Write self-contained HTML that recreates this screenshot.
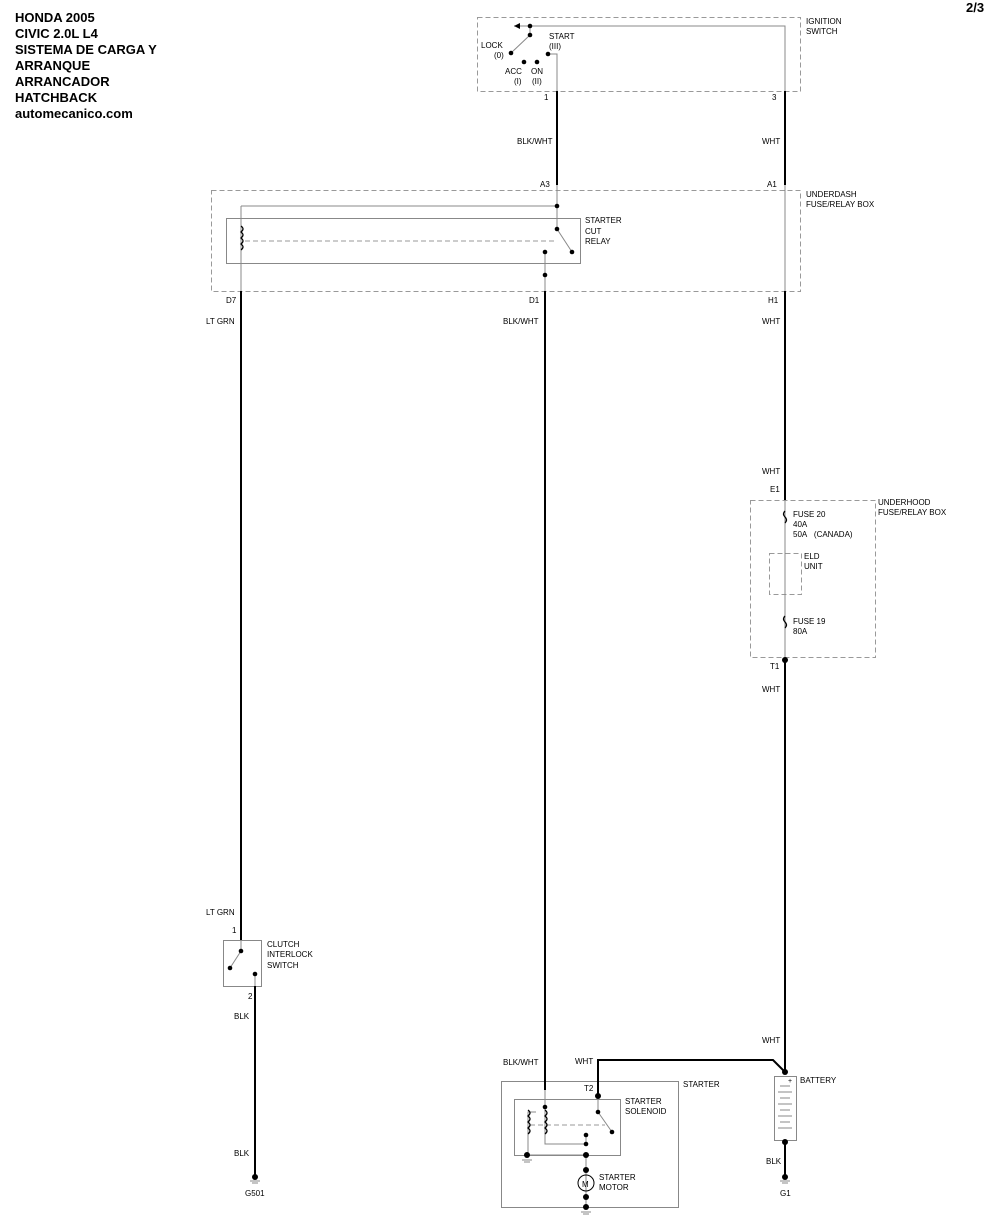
<!DOCTYPE html>
<html><head><meta charset="utf-8"><style>
html,body{margin:0;padding:0;background:#fff;}
svg{display:block;}
text{font-family:"Liberation Sans",Arial,sans-serif;font-size:8px;fill:#000;}
.t{font-size:13px;font-weight:bold;}
</style></head><body>
<svg width="990" height="1218" viewBox="0 0 990 1218" xmlns="http://www.w3.org/2000/svg">
<g>
<text class="t" x="15" y="22">HONDA 2005</text>
<text class="t" x="15" y="38">CIVIC 2.0L L4</text>
<text class="t" x="15" y="54">SISTEMA DE CARGA Y</text>
<text class="t" x="15" y="70">ARRANQUE</text>
<text class="t" x="15" y="86">ARRANCADOR</text>
<text class="t" x="15" y="102">HATCHBACK</text>
<text class="t" x="15" y="118">automecanico.com</text>
<text class="t" x="966" y="12">2/3</text>
</g>
<g fill="none" stroke="#999" stroke-width="1" stroke-dasharray="5,3">
<rect x="477.5" y="17.5" width="323" height="74"/>
<rect x="211.5" y="190.5" width="589" height="101"/>
<rect x="750.5" y="500.5" width="125" height="157"/>
<rect x="769.5" y="553.5" width="32" height="41"/>
<line x1="245" y1="241" x2="555" y2="241"/>
<line x1="530" y1="1125" x2="605" y2="1125"/>
</g>
<g fill="none" stroke="#888" stroke-width="1">
<rect x="226.5" y="218.5" width="354" height="45"/>
<rect x="501.5" y="1081.5" width="177" height="126"/>
<rect x="514.5" y="1099.5" width="106" height="56"/>
<rect x="223.5" y="940.5" width="38" height="46"/>
<rect x="774.5" y="1076.5" width="22" height="64"/>
<polyline points="514,26 785,26 785,291"/>
<polyline points="548,54 557,54 557,91"/>
<line x1="530" y1="26" x2="530" y2="35"/>
<line x1="530" y1="35" x2="511" y2="53"/>
<line x1="241" y1="206" x2="557" y2="206"/>
<line x1="241" y1="206" x2="241" y2="291"/>
<line x1="557" y1="185" x2="557" y2="229"/>
<line x1="557" y1="229" x2="572" y2="252"/>
<line x1="545" y1="252" x2="545" y2="291"/>
<line x1="785" y1="500" x2="785" y2="660"/>
<line x1="241" y1="940" x2="241" y2="951"/>
<line x1="241" y1="951" x2="230" y2="968"/>
<line x1="255" y1="974" x2="255" y2="986"/>
<line x1="545" y1="1090" x2="545" y2="1107"/>
<line x1="598" y1="1096" x2="598" y2="1112"/>
<line x1="598" y1="1112" x2="612" y2="1132"/>
<polyline points="536,1112 528,1112 528,1155 586,1155"/>
<polyline points="545,1107 545,1144 586,1144 586,1135"/>
<line x1="586" y1="1155" x2="586" y2="1207"/>
</g>
<g fill="none" stroke="#000" stroke-width="2">
<line x1="557" y1="91" x2="557" y2="185"/>
<line x1="785" y1="91" x2="785" y2="185"/>
<line x1="241" y1="291" x2="241" y2="940"/>
<line x1="545" y1="291" x2="545" y2="1090"/>
<line x1="785" y1="291" x2="785" y2="500"/>
<line x1="785" y1="660" x2="785" y2="1072"/>
<line x1="255" y1="986" x2="255" y2="1175"/>
<polyline points="598,1096 598,1060 773,1060 785,1072"/>
<line x1="785" y1="1142" x2="785" y2="1175"/>
</g>
<g fill="none" stroke="#000" stroke-width="1.3">
<path d="M241,226 q4,3 0,6 q4,3 0,6 q4,3 0,6 q4,3 0,6"/>
<path d="M528,1110 q4,3 0,6 q4,3 0,6 q4,3 0,6 q4,3 0,6"/>
<path d="M545,1110 q4,3 0,6 q4,3 0,6 q4,3 0,6 q4,3 0,6"/>
<path d="M785,511 q-3,3 0,6 q3,3 0,6"/>
<path d="M785,616 q-3,3 0,6 q3,3 0,6"/>
<circle cx="586" cy="1183" r="8" stroke-width="1"/>
</g>
<g stroke="#888" stroke-width="1">
<line x1="780" y1="1086" x2="790" y2="1086"/><line x1="778" y1="1092" x2="792" y2="1092"/>
<line x1="780" y1="1098" x2="790" y2="1098"/><line x1="778" y1="1104" x2="792" y2="1104"/>
<line x1="780" y1="1110" x2="790" y2="1110"/><line x1="778" y1="1116" x2="792" y2="1116"/>
<line x1="780" y1="1122" x2="790" y2="1122"/><line x1="778" y1="1128" x2="792" y2="1128"/>
<line x1="250" y1="1181" x2="260" y2="1181"/><line x1="252" y1="1183" x2="258" y2="1183"/>
<line x1="780" y1="1181" x2="790" y2="1181"/><line x1="782" y1="1183" x2="788" y2="1183"/>
<line x1="522" y1="1160" x2="532" y2="1160"/><line x1="524" y1="1162" x2="530" y2="1162"/>
<line x1="581" y1="1212" x2="591" y2="1212"/><line x1="583" y1="1214" x2="589" y2="1214"/>
</g>
<g fill="#000">
<path d="M514,26 l6,-3 v6z"/>
<circle cx="530" cy="26" r="2.3"/><circle cx="530" cy="35" r="2.3"/><circle cx="511" cy="53" r="2.3"/>
<circle cx="524" cy="62" r="2.3"/><circle cx="537" cy="62" r="2.3"/><circle cx="548" cy="54" r="2.3"/>
<circle cx="557" cy="206" r="2.3"/><circle cx="557" cy="229" r="2.3"/><circle cx="572" cy="252" r="2.3"/>
<circle cx="545" cy="252" r="2.3"/><circle cx="545" cy="275" r="2.3"/>
<circle cx="785" cy="660" r="3"/>
<circle cx="241" cy="951" r="2.3"/><circle cx="230" cy="968" r="2.3"/><circle cx="255" cy="974" r="2.3"/>
<circle cx="598" cy="1096" r="3"/><circle cx="598" cy="1112" r="2.3"/><circle cx="612" cy="1132" r="2.3"/>
<circle cx="545" cy="1107" r="2.3"/><circle cx="527" cy="1155" r="3"/>
<circle cx="586" cy="1135" r="2.3"/><circle cx="586" cy="1144" r="2.3"/><circle cx="586" cy="1155" r="3"/>
<circle cx="586" cy="1170" r="3"/><circle cx="586" cy="1197" r="3"/><circle cx="586" cy="1207" r="3"/>
<circle cx="785" cy="1072" r="3"/><circle cx="785" cy="1142" r="3"/>
<circle cx="255" cy="1177" r="3"/><circle cx="785" cy="1177" r="3"/>
</g>
<g>
<text x="806" y="24">IGNITION</text><text x="806" y="34">SWITCH</text>
<text x="481" y="48">LOCK</text><text x="494" y="58">(0)</text>
<text x="549" y="39">START</text><text x="549" y="49">(III)</text>
<text x="505" y="74">ACC</text><text x="514" y="84">(I)</text>
<text x="531" y="74">ON</text><text x="532" y="84">(II)</text>
<text x="544" y="100">1</text><text x="772" y="100">3</text>
<text x="517" y="144">BLK/WHT</text><text x="762" y="144">WHT</text>
<text x="540" y="187">A3</text><text x="767" y="187">A1</text>
<text x="806" y="197">UNDERDASH</text><text x="806" y="207">FUSE/RELAY BOX</text>
<text x="585" y="223">STARTER</text><text x="585" y="234">CUT</text><text x="585" y="244">RELAY</text>
<text x="226" y="303">D7</text><text x="529" y="303">D1</text><text x="768" y="303">H1</text>
<text x="206" y="324">LT GRN</text><text x="503" y="324">BLK/WHT</text><text x="762" y="324">WHT</text>
<text x="762" y="474">WHT</text><text x="770" y="492">E1</text>
<text x="878" y="505">UNDERHOOD</text><text x="878" y="515">FUSE/RELAY BOX</text>
<text x="793" y="517">FUSE 20</text><text x="793" y="527">40A</text><text x="793" y="537">50A&#160;&#160;&#160;(CANADA)</text>
<text x="804" y="559">ELD</text><text x="804" y="569">UNIT</text>
<text x="793" y="624">FUSE 19</text><text x="793" y="634">80A</text>
<text x="770" y="669">T1</text><text x="762" y="692">WHT</text>
<text x="206" y="915">LT GRN</text><text x="232" y="933">1</text>
<text x="267" y="947">CLUTCH</text><text x="267" y="957">INTERLOCK</text><text x="267" y="968">SWITCH</text>
<text x="248" y="999">2</text><text x="234" y="1019">BLK</text>
<text x="234" y="1156">BLK</text><text x="245" y="1196">G501</text>
<text x="762" y="1043">WHT</text>
<text x="503" y="1065">BLK/WHT</text><text x="575" y="1064">WHT</text>
<text x="683" y="1087">STARTER</text><text x="584" y="1091">T2</text>
<text x="625" y="1104">STARTER</text><text x="625" y="1114">SOLENOID</text>
<text x="599" y="1180">STARTER</text><text x="599" y="1190">MOTOR</text>
<text x="582" y="1187">M</text>
<text x="788" y="1083" style="font-size:7px">+</text>
<text x="800" y="1083">BATTERY</text>
<text x="766" y="1164">BLK</text><text x="780" y="1196">G1</text>
</g>
</svg>
</body></html>
